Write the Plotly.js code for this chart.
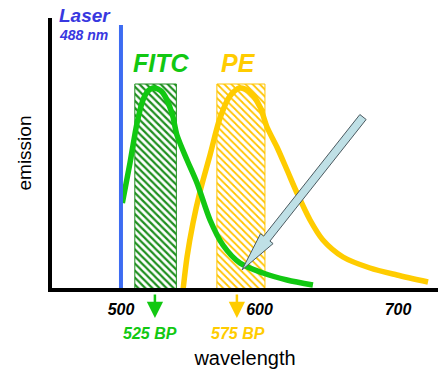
<!DOCTYPE html>
<html><head><meta charset="utf-8">
<script src="https://cdn.plot.ly/plotly-3.0.1.min.js"></script>
<style>html,body{margin:0;padding:0;background:#fff}#chart{width:442px;height:384px}</style>
</head><body><div id="chart"></div>
<script>
// ---- data ----
const fitcWavelength = [501, 506.5, 511.6, 515.9, 519.5, 523.1, 526.7, 530.3, 536.8, 540.4, 547.7, 554.9, 564.3, 573.6, 585.9, 602.5, 619.9, 638.6];
const fitcEmission   = [0.435, 0.635, 0.835, 0.95, 0.995, 1.01, 1.005, 0.985, 0.885, 0.775, 0.65, 0.535, 0.35, 0.225, 0.135, 0.085, 0.05, 0.025];
const peWavelength = [544.8, 547.7, 552.0, 557.0, 564.3, 571.5, 578.7, 585.9, 593.1, 600.4, 605.4, 612.6, 619.9, 627.1, 636.5, 645.8, 660.3, 679.8, 699.3, 721.7];
const peEmission   = [0.0, 0.165, 0.335, 0.49, 0.675, 0.86, 0.97, 1.01, 0.99, 0.915, 0.815, 0.715, 0.6, 0.485, 0.35, 0.25, 0.165, 0.11, 0.075, 0.04];
const laserWavelength = 500;      // where the laser line is drawn
const laserTop = 1.325;
const filterNames = ['FITC', 'PE'];
const filterCenters = [525, 586.6];
const filterWidths = [30, 34.7];
const filterHeights = [1.03, 1.03];
const filterLabels = ['525 BP', '575 BP'];
const filterArrowX = [524.5, 583.7];
const tickValues = [500, 600, 700];
const tickLabels = ['500', '600', '700'];

// ---- styles ----
const FONT = 'Liberation Sans, Arial, sans-serif';
const GREEN = '#12c812', GREEN_HATCH = '#1f8f1f', YELLOW = '#ffcc00', YELLOW_HATCH = '#ffc400';
const LASER = '#3d6cf2', LASER_TXT = '#3838e0';

// pixel helpers (plot area: x 52..438, y 18..288)
const L = 52, R = 4, T = 18, B = 96, W = 442, H = 384;
const pw = W - L - R, ph = H - T - B;
const px2paperX = p => (p - L) / pw;
const px2paperY = p => (H - B - p) / ph;

const traces = [
  {type: 'bar', x: [filterCenters[0]], y: [filterHeights[0]], width: [filterWidths[0]], base: 0,
   marker: {color: 'white', line: {color: GREEN_HATCH, width: 1},
            pattern: {shape: '\\', fgcolor: GREEN_HATCH, bgcolor: 'white', size: 5, solidity: 0.45}},
   hoverinfo: 'skip'},
  {type: 'bar', x: [filterCenters[1]], y: [filterHeights[1]], width: [filterWidths[1]], base: 0,
   marker: {color: 'white', line: {color: YELLOW_HATCH, width: 1},
            pattern: {shape: '\\', fgcolor: YELLOW_HATCH, bgcolor: 'white', size: 5, solidity: 0.35}},
   hoverinfo: 'skip'},
  {type: 'scatter', mode: 'lines', x: peWavelength, y: peEmission,
   line: {color: YELLOW, width: 5.5, shape: 'spline', smoothing: 0.8}},
  {type: 'scatter', mode: 'lines', x: fitcWavelength, y: fitcEmission,
   line: {color: GREEN, width: 5.5, shape: 'spline', smoothing: 0.8}},
  {type: 'scatter', mode: 'lines', x: [laserWavelength, laserWavelength], y: [0, laserTop],
   line: {color: LASER, width: 4}}
];

// big pointer arrow polygon (pixels)
const tail = [363, 117], tip = [242, 270];
const dx = tip[0] - tail[0], dy = tip[1] - tail[1], len = Math.hypot(dx, dy);
const u = [dx / len, dy / len], n = [u[1], -u[0]];
const headLen = 40, sh = 4, hh = 8;
const base = [tip[0] - headLen * u[0], tip[1] - headLen * u[1]];
const pts = [
  [tail[0] + sh * n[0], tail[1] + sh * n[1]],
  [base[0] + sh * n[0], base[1] + sh * n[1]],
  [base[0] + hh * n[0], base[1] + hh * n[1]],
  tip,
  [base[0] - hh * n[0], base[1] - hh * n[1]],
  [base[0] - sh * n[0], base[1] - sh * n[1]],
  [tail[0] - sh * n[0], tail[1] - sh * n[1]]
];
const path = 'M' + pts.map(p => px2paperX(p[0]).toFixed(4) + ',' + px2paperY(p[1]).toFixed(4)).join(' L') + ' Z';

const bi = (size, color) => ({family: FONT, size: size, color: color, weight: 'bold', style: 'italic'});

const annotations = [
  {xref: 'paper', yref: 'paper', x: px2paperX(57), y: px2paperY(15.5), xanchor: 'left', yanchor: 'middle',
   text: 'Laser', showarrow: false, font: bi(19, LASER_TXT)},
  {xref: 'paper', yref: 'paper', x: px2paperX(57), y: px2paperY(35), xanchor: 'left', yanchor: 'middle',
   text: '488 nm', showarrow: false, font: bi(14, LASER_TXT)},
  {xref: 'paper', yref: 'paper', x: px2paperX(131), y: px2paperY(63), xanchor: 'left', yanchor: 'middle',
   text: filterNames[0], showarrow: false, font: bi(25, GREEN)},
  {xref: 'paper', yref: 'paper', x: px2paperX(219), y: px2paperY(63), xanchor: 'left', yanchor: 'middle',
   text: filterNames[1], showarrow: false, font: bi(25, YELLOW)},
  {xref: 'paper', yref: 'paper', x: px2paperX(149.5), y: px2paperY(333.5), xanchor: 'center', yanchor: 'middle',
   text: filterLabels[0], showarrow: false, font: bi(16, GREEN)},
  {xref: 'paper', yref: 'paper', x: px2paperX(238), y: px2paperY(333.5), xanchor: 'center', yanchor: 'middle',
   text: filterLabels[1], showarrow: false, font: bi(16, YELLOW)},
  {xref: 'x', yref: 'paper', x: filterArrowX[0], y: px2paperY(318), ax: 0, ay: -25, text: '',
   showarrow: true, arrowhead: 2, arrowsize: 1.3, arrowwidth: 2.5, arrowcolor: GREEN},
  {xref: 'x', yref: 'paper', x: filterArrowX[1], y: px2paperY(318), ax: 0, ay: -25, text: '',
   showarrow: true, arrowhead: 2, arrowsize: 1.3, arrowwidth: 2.5, arrowcolor: YELLOW}
];

const layout = {
  width: W, height: H,
  margin: {l: L, r: R, t: T, b: B, pad: 0},
  paper_bgcolor: 'white', plot_bgcolor: 'white',
  showlegend: false, barmode: 'overlay', hovermode: false,
  font: {family: FONT, color: 'black'},
  xaxis: {range: [450.2, 728.9], showgrid: false, zeroline: false, showline: true,
          linecolor: 'black', linewidth: 4, ticks: '', tickvals: tickValues, ticktext: tickLabels,
          tickfont: bi(16, 'black'), ticklabelstandoff: 4,
          title: {text: 'wavelength', font: {family: FONT, size: 20, color: 'black'}, standoff: 35}},
  yaxis: {range: [0.01, 1.36], showgrid: false, zeroline: false, showline: true,
          linecolor: 'black', linewidth: 4, ticks: '', showticklabels: false,
          title: {text: 'emission', font: {family: FONT, size: 19, color: 'black'}, standoff: 12}},
  shapes: [{type: 'path', xref: 'paper', yref: 'paper', path: path,
            fillcolor: '#bfe0e6', line: {color: '#4b5a60', width: 1}, layer: 'above'}],
  annotations: annotations
};

Plotly.newPlot('chart', traces, layout, {staticPlot: true, displayModeBar: false});
</script></body></html>
